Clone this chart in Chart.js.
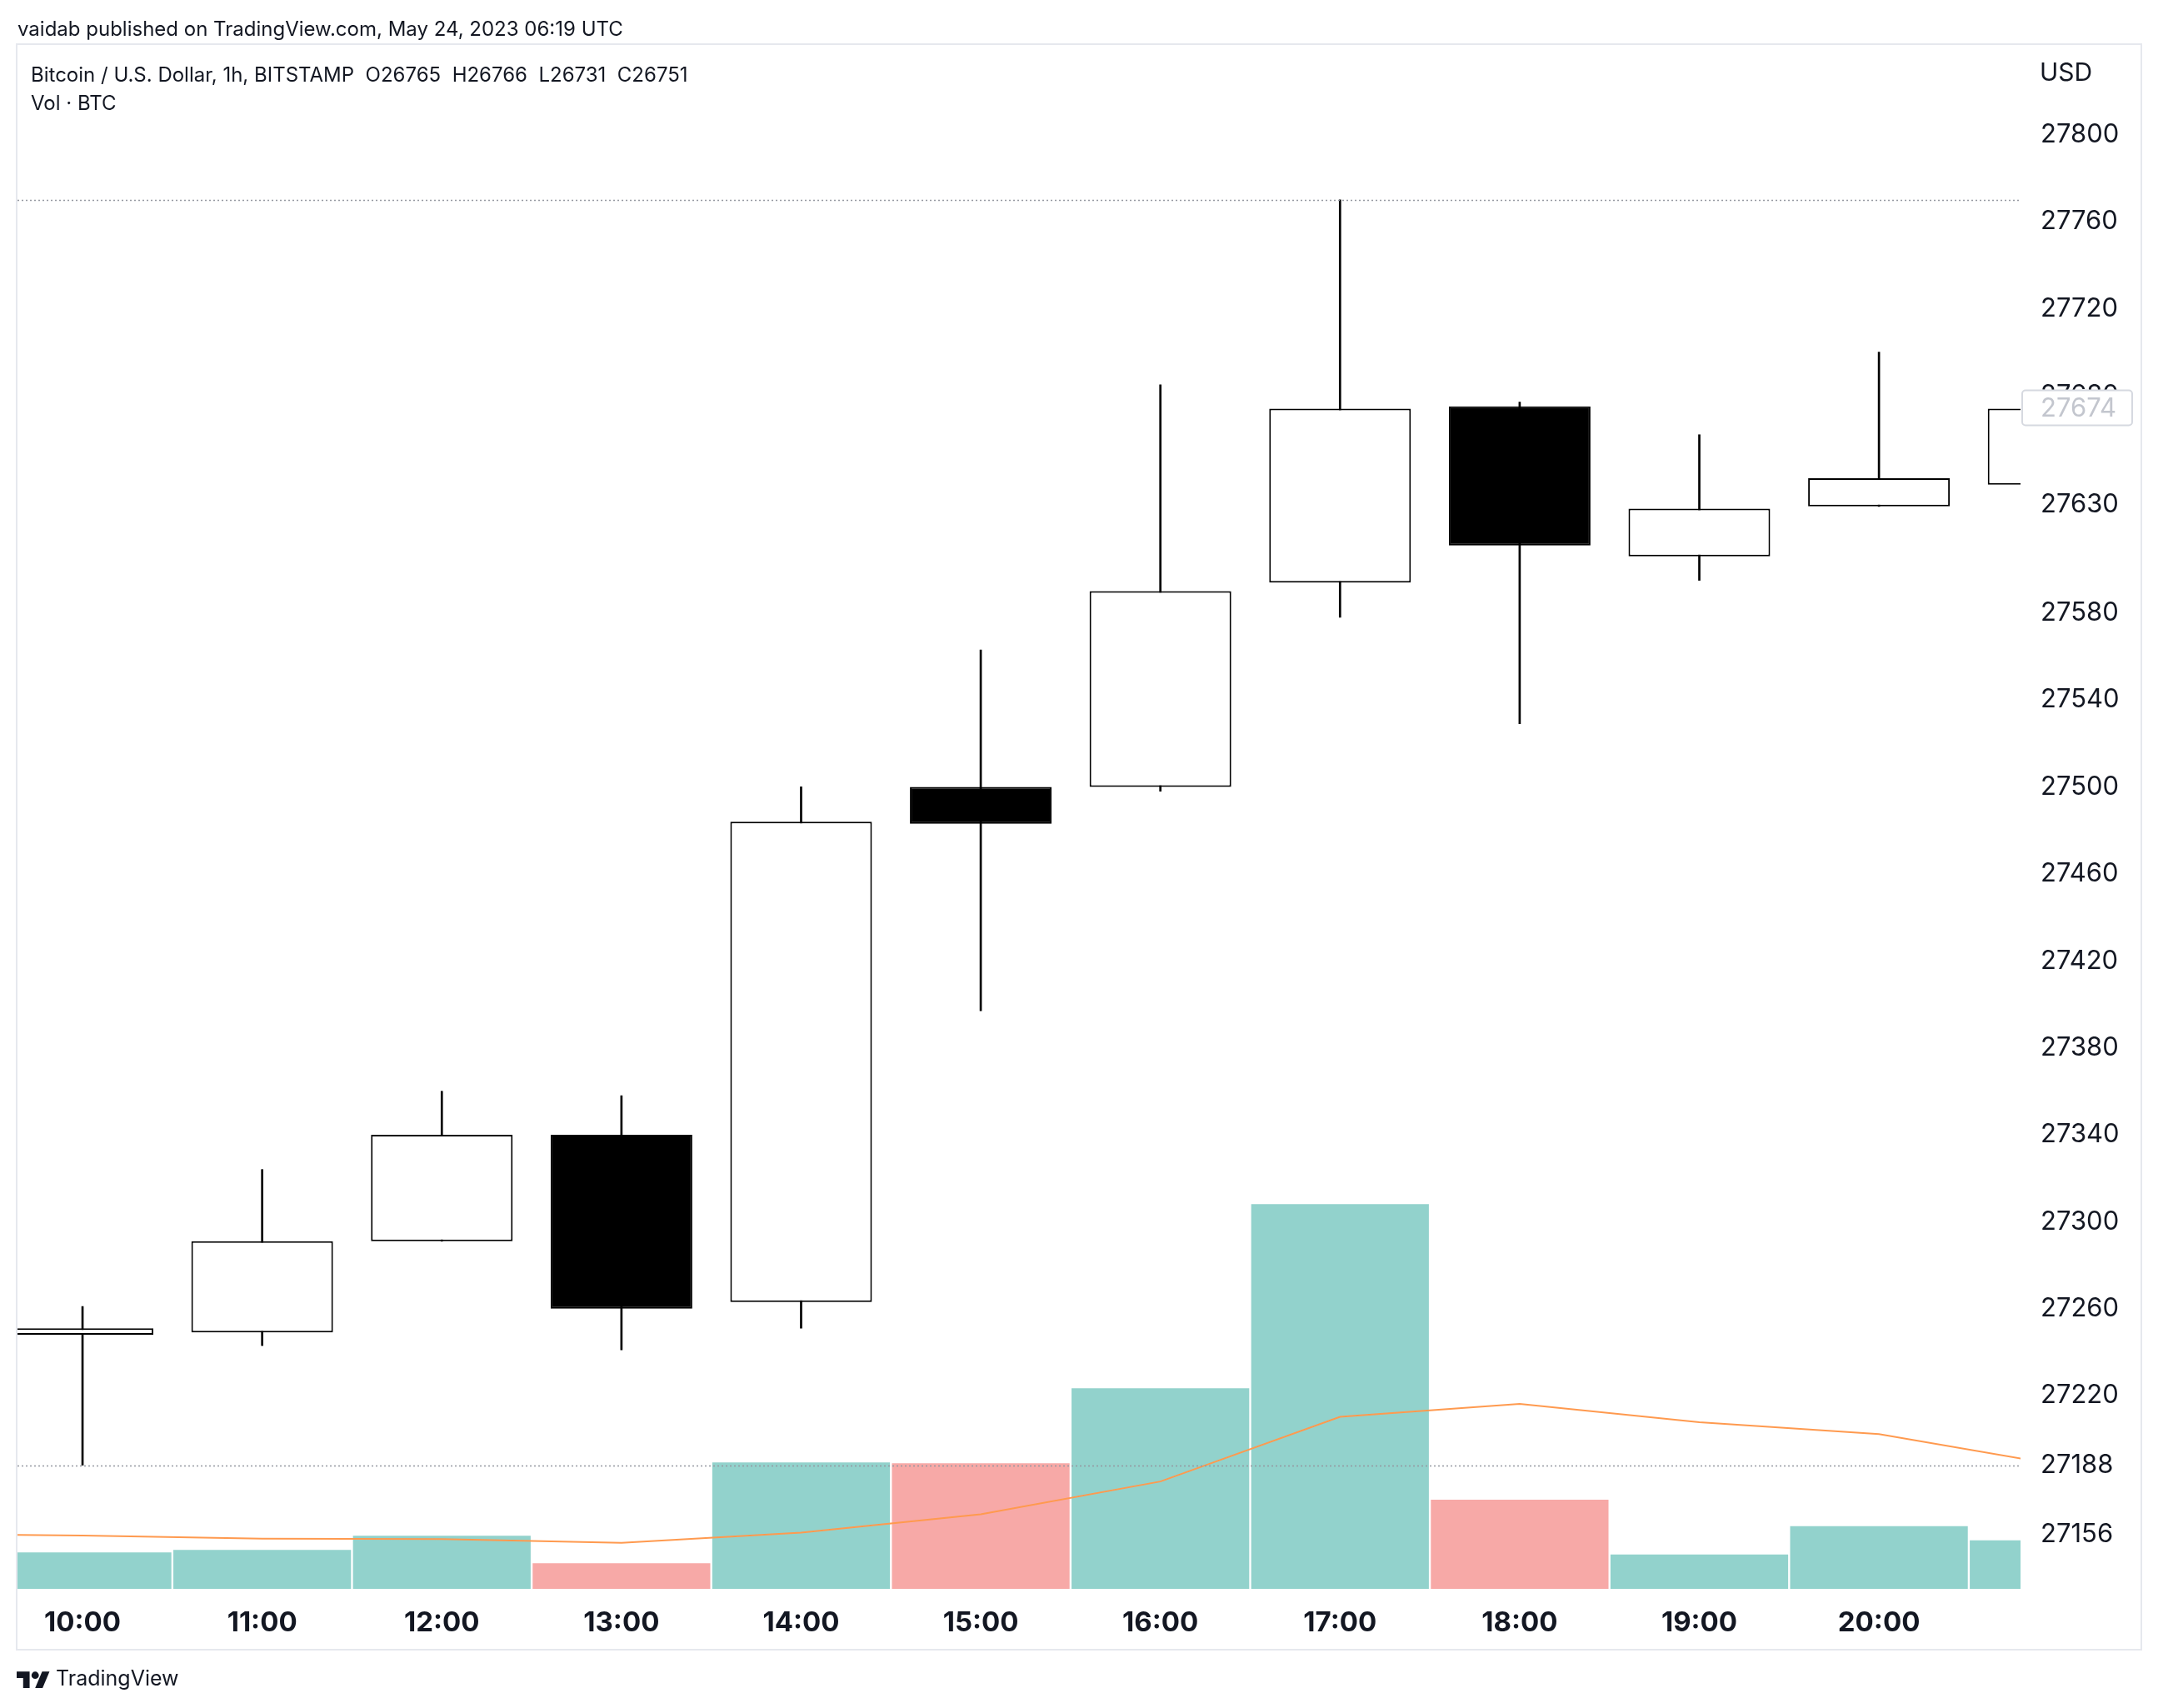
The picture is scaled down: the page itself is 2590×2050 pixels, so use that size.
<!DOCTYPE html>
<html><head><meta charset="utf-8">
<script src="https://cdn.jsdelivr.net/npm/chart.js@4.4.0/dist/chart.umd.min.js"></script>
<style>
html,body{margin:0;padding:0;background:#fff;}
body{width:2590px;height:2050px;position:relative;overflow:hidden;font-family:Inter,"Noto Sans",sans-serif;color:#131722;}
.t{position:absolute;white-space:pre;line-height:1;z-index:2;}
#frame{position:absolute;left:19px;top:52px;width:2552px;height:1929px;box-sizing:border-box;border:2px solid #e6e8ee;}
#c{position:absolute;left:0;top:0;z-index:1;}
#logo{position:absolute;left:20px;top:2002px;z-index:2;}
</style></head><body>
<div id="frame"></div>
<canvas id="c" width="2590" height="2050" style="width:2590px;height:2050px"></canvas>
<div class="t" style="left:21px;top:23px;font-size:24px">vaidab published on TradingView.com, May 24, 2023 06:19 UTC</div>
<div class="t" style="left:37px;top:78px;font-size:24px">Bitcoin / U.S. Dollar, 1h, BITSTAMP  O26765  H26766  L26731  C26751</div>
<div class="t" style="left:37px;top:112px;font-size:24px">Vol · BTC</div>
<div class="t" style="left:2448px;top:71px;font-size:30px">USD</div>
<svg id="logo" width="40" height="24" viewBox="0 0 36 22" preserveAspectRatio="none"><g fill="#131722"><path d="M14 22H7V11H0V4h14v18z"/><path d="M28 22h-8l7.5-18h8L28 22z"/><circle cx="20" cy="8" r="4"/></g></svg>
<div class="t" style="left:67px;top:2002px;font-size:25px">TradingView</div>
<script>
// ---- data ----
const hours   = ['10:00','11:00','12:00','13:00','14:00','15:00','16:00','17:00','18:00','19:00','20:00','21:00'];
const opens   = [27248, 27249, 27291, 27340, 27263, 27500, 27500, 27594, 27675, 27606, 27629, 27639];
const highs   = [27261, 27324, 27360, 27358, 27500, 27563, 27685, 27770, 27677, 27662, 27700, 27680];
const lows    = [27188, 27243, 27291, 27241, 27251, 27397, 27498, 27578, 27529, 27595, 27629, 27636];
const closes  = [27251, 27291, 27340, 27260, 27484, 27483, 27590, 27674, 27611, 27628, 27642, 27674];
const volumes = [26.5, 28.3, 38.6, 18.6, 91.9, 91.2, 145.7, 279.5, 64.8, 25.0, 45.5, 35.2];
const maHours = ['09:00','10:00','11:00','12:00','13:00','14:00','15:00','16:00','17:00','18:00','19:00','20:00','21:00'];
const maVol   = [40.0, 38.8, 36.5, 36.2, 33.5, 40.9, 54.2, 78.0, 125.0, 134.4, 121.0, 112.4, 90.0];
const yTickValues = [27800, 27760, 27720, 27680, 27630, 27580, 27540, 27500, 27460, 27420, 27380, 27340, 27300, 27260, 27220, 27188, 27156];

// ---- view ranges ----
const X_MIN = -0.362, X_MAX = 10.788;
const Y_MIN = 27131.1, Y_MAX = 27840.5;
const VOL_MAX = 1120.5;

const up = closes.map((c,i)=>c>=opens[i]);
const idx = hours.map((h,i)=>i);

const wickData = idx.map(i=>({x:i, y:[lows[i], highs[i]]}));
const bodyData = idx.map(i=>({x:i, y:[opens[i], closes[i]]}));
const volData  = idx.map(i=>({x:i, y:volumes[i]}));
const maData   = maHours.map((h,i)=>({x:i-1, y:maVol[i]}));

const refLines = {
  id:'refLines',
  afterDatasetsDraw(chart){
    const {ctx, chartArea:a, scales:{y}} = chart;
    const vals = [Math.max(...highs), Math.min(...lows)];
    ctx.save();
    ctx.strokeStyle = '#9598a1'; ctx.lineWidth = 1.5; ctx.setLineDash([2,3]);
    vals.forEach(v=>{
      const py = Math.round(y.getPixelForValue(v)) + 0.5;
      ctx.beginPath(); ctx.moveTo(a.left, py); ctx.lineTo(a.right, py); ctx.stroke();
    });
    ctx.restore();
  }
};
const lastLabel = {
  id:'lastLabel',
  afterDraw(chart){
    const {ctx, chartArea:a, scales:{y}} = chart;
    const v = closes[closes.length-1];
    const py = y.getPixelForValue(v);
    const x0 = a.right + 2, w = 132, h = 42;
    ctx.save();
    ctx.beginPath();
    ctx.roundRect(x0, py - h/2 - 1, w, h, 4);
    ctx.fillStyle = '#ffffff'; ctx.fill();
    ctx.lineWidth = 2; ctx.strokeStyle = '#d6d9e0'; ctx.stroke();
    ctx.fillStyle = '#c3c6ce';
    ctx.font = '31px Inter';
    ctx.textBaseline = 'middle'; ctx.textAlign = 'left';
    ctx.fillText(String(v), a.right + 24, py);
    ctx.restore();
  }
};

new Chart(document.getElementById('c'), {
  type: 'bar',
  data: {
    datasets: [
      { type:'bar', label:'Volume', data: volData, yAxisID:'yv', grouped:false, order:5,
        backgroundColor: up.map(u=>u?'rgba(38,166,154,0.5)':'rgba(239,83,80,0.5)'),
        borderWidth:0, categoryPercentage:1, barPercentage:0.989 },
      { type:'line', label:'Vol MA', data: maData, yAxisID:'yv', order:4,
        borderColor:'#ff9a4f', borderWidth:2, pointRadius:0, tension:0, fill:false },
      { type:'bar', label:'Wick', data: wickData, yAxisID:'y', grouped:false, order:2,
        backgroundColor:'#000000', borderWidth:0, barThickness:2 },
      { type:'bar', label:'Body', data: bodyData, yAxisID:'y', grouped:false, order:1,
        backgroundColor: up.map(u=>u?'#ffffff':'#000000'), borderColor:'#000000',
        borderWidth:2, borderSkipped:false, categoryPercentage:1, barPercentage:0.7885 }
    ]
  },
  options: {
    responsive:false, animation:false, devicePixelRatio:1,
    layout:{ padding:{ left:21, right:20, top:56, bottom:71 } },
    plugins:{ legend:{display:false}, tooltip:{enabled:false} },
    scales:{
      x:{ type:'linear', min:X_MIN, max:X_MAX, offset:false,
          grid:{display:false, drawTicks:false, offset:false}, border:{display:false},
          afterBuildTicks: s => { s.ticks = idx.filter(i=>i>=X_MIN && i<=X_MAX).map(i=>({value:i})); },
          afterFit: s => { s.height = 72; },
          ticks:{ autoSkip:false, maxRotation:0, padding:21, color:'#131722',
                  font:{family:'Inter', size:33, weight:'bold'},
                  callback: v => hours[v] } },
      y:{ type:'linear', position:'right', min:Y_MIN, max:Y_MAX,
          grid:{display:false, drawTicks:false}, border:{display:false},
          afterBuildTicks: s => { s.ticks = yTickValues.map(v=>({value:v})); },
          afterFit: s => { s.width = 145; },
          ticks:{ autoSkip:false, padding:24, color:'#131722',
                  font:{family:'Inter', size:31}, callback: v => String(v) } },
      yv:{ type:'linear', display:false, min:0, max:VOL_MAX, position:'right' }
    }
  },
  plugins:[refLines, lastLabel]
});
</script>
</body></html>
